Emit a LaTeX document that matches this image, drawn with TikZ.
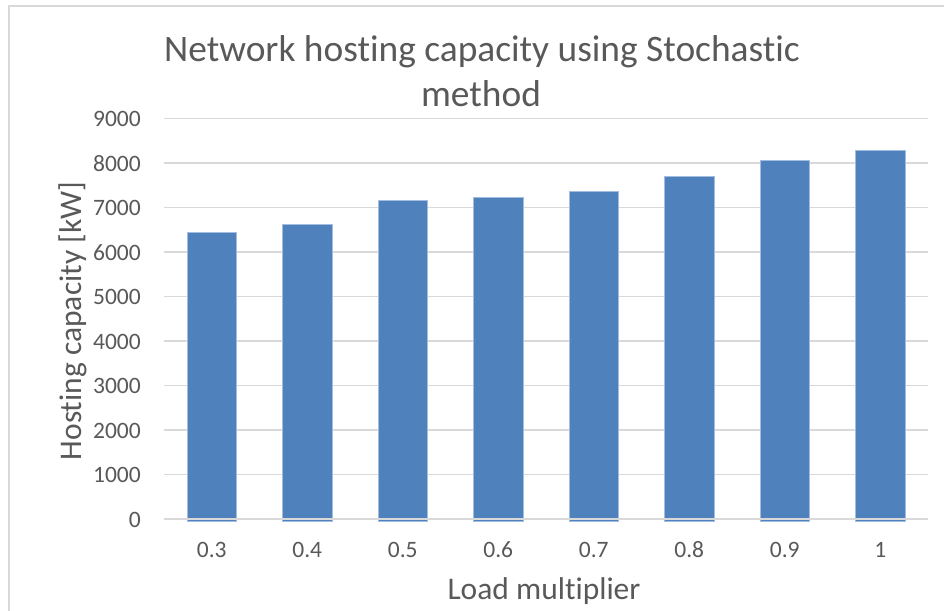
\documentclass[tikz,border=0pt]{standalone}
\usepackage{fontspec}
\setmainfont{Carlito}[Ligatures={NoCommon,NoRare,NoContextual}]
\definecolor{txt}{HTML}{595959}
\definecolor{grid}{HTML}{D9D9D9}
\definecolor{barfill}{HTML}{4F81BD}
\definecolor{baredge}{HTML}{A3BDE0}
\begin{document}
\begin{tikzpicture}[x=1pt,y=-1pt,
  gridline/.style={draw=grid,line width=1.6pt},
  framepart/.style={draw=grid,line width=2pt},
  barbox/.style={fill=barfill,draw=baredge,line width=0.9pt},
  ticklab/.style={text=txt,font=\fontsize{23.5}{28}\selectfont,inner sep=0pt},
  axtitle/.style={text=txt,font=\fontsize{31.5}{36}\selectfont,inner sep=0pt},
  charttitle/.style={text=txt,font=\fontsize{37.4}{44}\selectfont,inner sep=0pt}]
\useasboundingbox (0,0) rectangle (944,610);
\fill[white] (0,0) rectangle (944,610);
% frame
\draw[framepart] (8.5,612) -- (8.5,5.7) -- (946,5.7);
% title
\node[charttitle,anchor=base] (t1) at (482,61.7) {Network hosting capacity using Stochast\kern0pt ic};
\node[charttitle,anchor=base] (t2) at (481,106) {method};
% gridlines and y labels
\foreach \v in {1,...,9} {
  \pgfmathsetmacro{\yy}{519-\v*44.5}
  \draw[gridline] (164,\yy) -- (928,\yy);
}
\foreach \v in {0,...,9} {
  \pgfmathsetmacro{\yy}{519-\v*44.5+8}
  \node[ticklab,anchor=base east] (y\v) at (141,\yy) {\the\numexpr\v*1000\relax};
}
% bars
\foreach \val [count=\i from 0] in {6430,6622,7169,7229,7355,7701,8052,8285} {
  \pgfmathsetmacro{\cx}{164+95.5*(\i+0.5)}
  \pgfmathsetmacro{\ty}{519-\val*0.0445}
  \draw[barbox] (\cx-24.7,521) rectangle (\cx+24.7,\ty);
}
% zero line over bars
\draw[gridline] (164,519) -- (928,519);
% x labels
\foreach \lab [count=\i from 0] in {0.3,0.4,0.5,0.6,0.7,0.8,0.9,1} {
  \pgfmathsetmacro{\cx}{164+95.5*(\i+0.5)}
  \node[ticklab,anchor=base] (x\i) at (\cx,557) {\lab};
}
% axis titles
\node[axtitle,anchor=base] (xt) at (544,599.5) {Load multiplier};
\node[axtitle,anchor=base,rotate=90] (yt) at (81.7,321) {Host\kern0pt ing capacity [kW]};
\end{tikzpicture}
\end{document}
